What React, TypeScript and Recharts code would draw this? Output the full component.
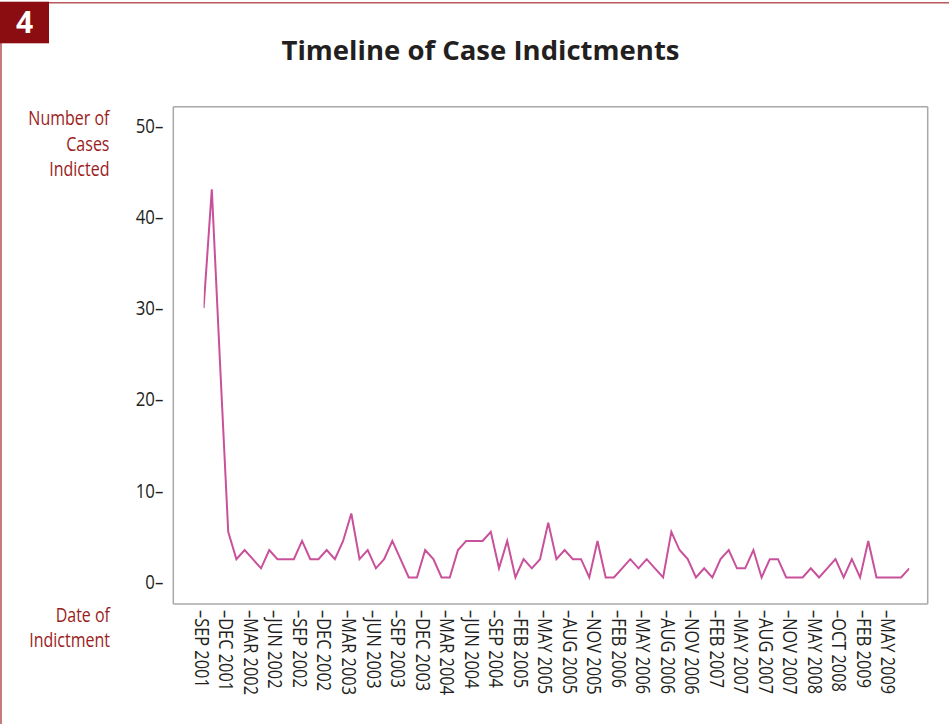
import React from 'react';
import { LineChart, Line, XAxis, YAxis } from 'recharts';

const chartTitle = 'Timeline of Case Indictments';
const figureNumber = '4';
const yTitleLines = ['Number of', 'Cases', 'Indicted'];
const xTitleLines = ['Date of', 'Indictment'];

const tickLabels = [
  'SEP 2001', 'DEC 2001', 'MAR 2002', 'JUN 2002', 'SEP 2002', 'DEC 2002',
  'MAR 2003', 'JUN 2003', 'SEP 2003', 'DEC 2003', 'MAR 2004', 'JUN 2004',
  'SEP 2004', 'FEB 2005', 'MAY 2005', 'AUG 2005', 'NOV 2005', 'FEB 2006',
  'MAY 2006', 'AUG 2006', 'NOV 2006', 'FEB 2007', 'MAY 2007', 'AUG 2007',
  'NOV 2007', 'MAY 2008', 'OCT 2008', 'FEB 2009', 'MAY 2009',
];

const yTicks = [0, 10, 20, 30, 40, 50];

const indictments = [
  30, 43, 24, 5.5, 2.5, 3.5, 2.5, 1.5, 3.5, 2.5,
  2.5, 2.5, 4.5, 2.5, 2.5, 3.5, 2.5, 4.5, 7.5, 2.5,
  3.5, 1.5, 2.5, 4.5, 2.5, 0.5, 0.5, 3.5, 2.5, 0.5,
  0.5, 3.5, 4.5, 4.5, 4.5, 5.5, 1.5, 4.5, 0.5, 2.5,
  1.5, 2.5, 6.5, 2.5, 3.5, 2.5, 2.5, 0.5, 4.5, 0.5,
  0.5, 1.5, 2.5, 1.5, 2.5, 1.5, 0.5, 5.5, 3.5, 2.5,
  0.5, 1.5, 0.5, 2.5, 3.5, 1.5, 1.5, 3.5, 0.5, 2.5,
  2.5, 0.5, 0.5, 0.5, 1.5, 0.5, 1.5, 2.5, 0.5, 2.5,
  0.5, 4.5, 0.5, 0.5, 0.5, 0.5, 1.5,
];

const data = indictments.map((v, i) => ({ idx: i, cases: v }));
const labelData = tickLabels.map((name, k) => ({ k, name, none: null as number | null }));

const RED = '#9a1d22';
const BADGE = '#8b0c11';
const FRAME = '#b8585e';
const LINE = '#c9509a';
const BOX = '#a8a8a8';
const FONT = "'Open Sans', sans-serif";
const CONDENSE = 0.84;

const YTick = (props: any) => {
  const { x, y, payload } = props;
  return (
    <text x={0} y={0} dy="0.35em" textAnchor="end" fill="#231f20"
      transform={`translate(${x}, ${y}) scale(${CONDENSE}, 1)`}
      style={{ fontFamily: FONT, fontSize: 20 }}>
      {`${payload.value}–`}
    </text>
  );
};

const XTick = (props: any) => {
  const { x, y, payload } = props;
  const label = tickLabels[payload.value];
  if (label === undefined) return null;
  return (
    <text x={0} y={0} dy="0.35em" textAnchor="start" fill="#231f20"
      transform={`translate(${x}, ${y}) rotate(90) scale(${CONDENSE}, 1)`}
      style={{ fontFamily: FONT, fontSize: 19.5 }}>
      {`–${label}`}
    </text>
  );
};

const labelIdx = tickLabels.map((_, i) => i);

const CondText = ({ x, y, children, anchor = 'end', fill = RED, size = 20 }: any) => (
  <text x={0} y={0} textAnchor={anchor} fill={fill}
    transform={`translate(${x}, ${y}) scale(0.8, 1)`}
    style={{ fontFamily: FONT, fontSize: size }}>
    {children}
  </text>
);

export default function App() {
  return (
    <div style={{ position: 'absolute', left: 0, top: 0, width: 949, height: 724, background: '#fff' }}>
      <LineChart width={949} height={724} data={data}
        margin={{ top: 105.7, right: 20.3, bottom: 20, left: 113.3 }}>
        <XAxis xAxisId="main" dataKey="idx" type="number" domain={[0, indictments.length - 1]}
          padding={{ left: 30.3, right: 18.4 }} hide allowDataOverflow />
        <XAxis xAxisId="labels" dataKey="k" type="number" domain={[0, tickLabels.length - 1]}
          ticks={labelIdx} interval={0} padding={{ left: 28.4, right: 39.4 }}
          height={100} axisLine={{ stroke: BOX, strokeWidth: 1.5 }} tickLine={false}
          tickSize={0} tickMargin={6} tick={<XTick />} allowDataOverflow />
        <XAxis xAxisId="top" orientation="top" type="number" domain={[0, 1]} height={1}
          axisLine={{ stroke: BOX, strokeWidth: 1.5 }} tick={false} tickLine={false} />
        <YAxis yAxisId="left" type="number" domain={[-2.41, 52.06]} ticks={yTicks} interval={0}
          width={60} axisLine={{ stroke: BOX, strokeWidth: 1.5 }} tickLine={false}
          tickSize={0} tickMargin={10} tick={<YTick />} allowDataOverflow />
        <YAxis yAxisId="right" orientation="right" type="number" domain={[-2.41, 52.06]} width={1}
          axisLine={{ stroke: BOX, strokeWidth: 1.5 }} tick={false} tickLine={false} />
        <Line xAxisId="labels" yAxisId="left" data={labelData} dataKey="none" stroke="none"
          dot={false} activeDot={false} isAnimationActive={false} />
        <Line xAxisId="main" yAxisId="left" dataKey="cases" type="linear" stroke={LINE}
          strokeWidth={2} dot={false} isAnimationActive={false} />
      </LineChart>
      <svg width={949} height={724} style={{ position: 'absolute', left: 0, top: 0, pointerEvents: 'none' }}>
        <line x1={48} y1={2.7} x2={949} y2={2.7} stroke={FRAME} strokeWidth={1.6} />
        <line x1={1} y1={40} x2={1} y2={724} stroke={FRAME} strokeWidth={1.6} />
        <rect x={0} y={1.7} width={49} height={41.6} fill={BADGE} />
        <text x={24.5} y={32.5} textAnchor="middle" fill="#fff"
          style={{ fontFamily: FONT, fontWeight: 700, fontSize: 30 }}>
          {figureNumber}
        </text>
        <text x={480.5} y={60} textAnchor="middle" fill="#231f20" textLength={398} lengthAdjust="spacingAndGlyphs"
          style={{ fontFamily: FONT, fontWeight: 700, fontSize: 27.5 }}>
          {chartTitle}
        </text>
        {yTitleLines.map((t, i) => (
          <CondText key={t} x={109.5} y={125 + i * 25.5}>{t}</CondText>
        ))}
        {xTitleLines.map((t, i) => (
          <CondText key={t} x={110} y={621.7 + i * 25.6}>{t}</CondText>
        ))}
      </svg>
    </div>
  );
}
